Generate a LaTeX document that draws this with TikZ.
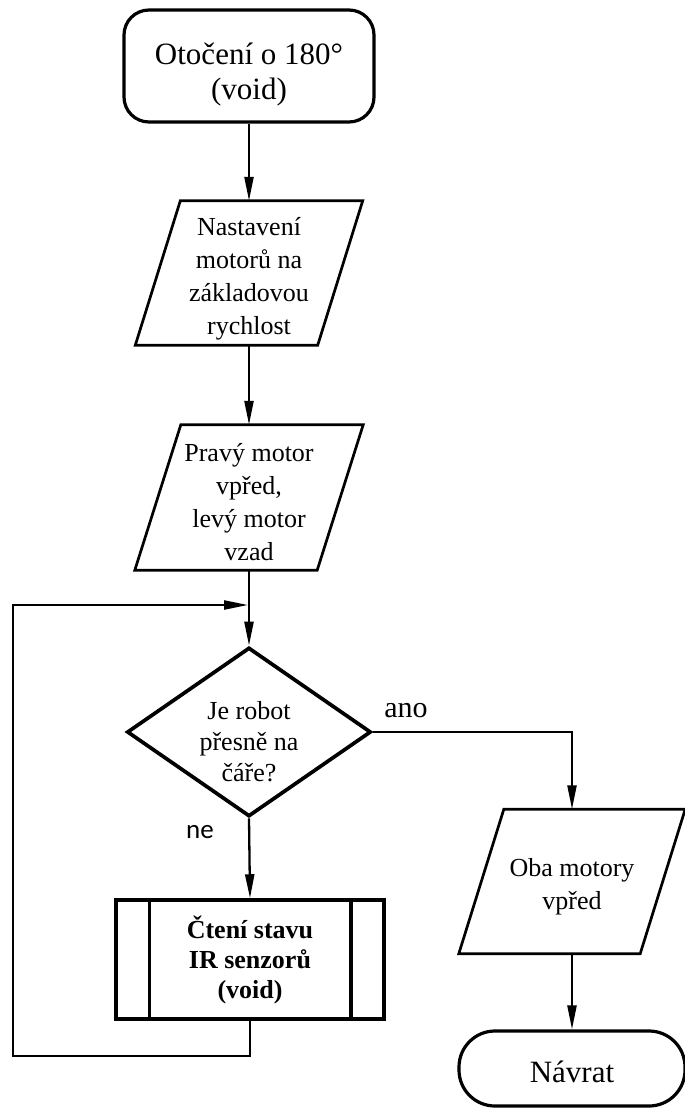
\documentclass[tikz,border=0pt]{standalone}
\usepackage{fontspec}
\setmainfont{Liberation Serif}
\newfontfamily\labelsans{Carlito}
\usetikzlibrary{arrows.meta,shapes.geometric}
\begin{document}
\begin{tikzpicture}[x=1pt,y=-1pt,
  conn/.style={line width=2.3pt,-{Triangle[length=24pt,width=9pt]}},
  terminal/.style={draw,line width=3.2pt,inner sep=0pt},
  termtext/.style={align=center,font=\fontsize{31}{35}\selectfont},
  iobox/.style={inner sep=0pt},
  iotext/.style={align=center,font=\fontsize{26}{33}\selectfont},
  ioline/.style={line width=2.7pt,line join=miter},
  subbox/.style={draw,line width=3.5pt,inner sep=0pt,align=center,
    minimum width=268pt,minimum height=119pt,
    font=\fontsize{26}{30}\selectfont\bfseries},
  decision/.style={draw,shape=diamond,line width=3.7pt,inner sep=0pt,
    minimum width=244pt,minimum height=169pt},
  dectext/.style={align=center,font=\fontsize{26}{31}\selectfont},
  yeslabel/.style={font=\fontsize{30}{34}\selectfont},
  nolabel/.style={font=\labelsans\fontsize{27}{30}\selectfont}
]
\useasboundingbox (0,0) rectangle (685,1108);

% start terminal
\node[terminal,rounded corners=25pt,minimum width=250pt,minimum height=112pt]
  (start) at (249,66) {};
\node[termtext] (startt) at (249,75) {Otočení o 180°\\(void)};

% first output block
\node[iobox,minimum width=227pt,minimum height=144pt] (p1) at (249,273) {};
\node[iotext] (p1t) at (249,279) {Nastavení\\motorů na\\základovou\\rychlost};
\draw[ioline] ([xshift=45pt]p1.north west) -- (p1.north east)
  -- ([xshift=-45pt]p1.south east) -- (p1.south west) -- cycle;

% second output block
\node[iobox,minimum width=228pt,minimum height=145pt] (p2) at (249,497.5) {};
\node[iotext] (p2t) at (249,502) {Pravý motor\\vpřed,\\levý motor\\vzad};
\draw[ioline] ([xshift=46pt]p2.north west) -- (p2.north east)
  -- ([xshift=-46pt]p2.south east) -- (p2.south west) -- cycle;

% decision
\node[decision] (dec) at (249,732) {};
\node[dectext] (dect) at (249,742) {Je robot\\přesně na\\čáře?};

% sensor subroutine
\node[subbox] (sub) at (250,959.5) {Čtení stavu\\IR senzorů\\(void)};
\draw[line width=3.5pt] ([xshift=35pt]sub.north west) -- ([xshift=35pt]sub.south west);
\draw[line width=3.5pt] ([xshift=-35pt]sub.north east) -- ([xshift=-35pt]sub.south east);

% third output block
\node[iobox,minimum width=226pt,minimum height=144pt] (p3) at (572,881.5) {};
\node[iotext] (p3t) at (572,887) {Oba motory\\vpřed};
\draw[ioline] ([xshift=45pt]p3.north west) -- (p3.north east)
  -- ([xshift=-45pt]p3.south east) -- (p3.south west) -- cycle;

% end terminal
\node[terminal,rounded corners=36pt,minimum width=226pt,minimum height=75pt]
  (end) at (572,1068.5) {};
\node[termtext] (endt) at (572,1072) {Návrat};

% loop path points
\coordinate (merge) at (249,605);
\coordinate (lb) at (13,1056);
\coordinate (lt) at (13,605);

% connectors
\draw[conn] (start.south) -- (p1.north);
\draw[conn] (p1.south) -- (p2.north);
\draw[conn] (p2.south) -- (dec.north);
\draw[conn] (dec.south) -- (sub.north);
\draw[conn] (dec.east) -| (p3.north);
\draw[conn] (p3.south) -- (end.north);
\draw[conn,shorten >=1pt] (sub.south) |- (lb) -- (lt) -- (merge);

% branch labels
\node[yeslabel] (ano) at (406,711) {ano};
\node[nolabel] (ne) at (200,832) {ne};
\end{tikzpicture}
\end{document}
